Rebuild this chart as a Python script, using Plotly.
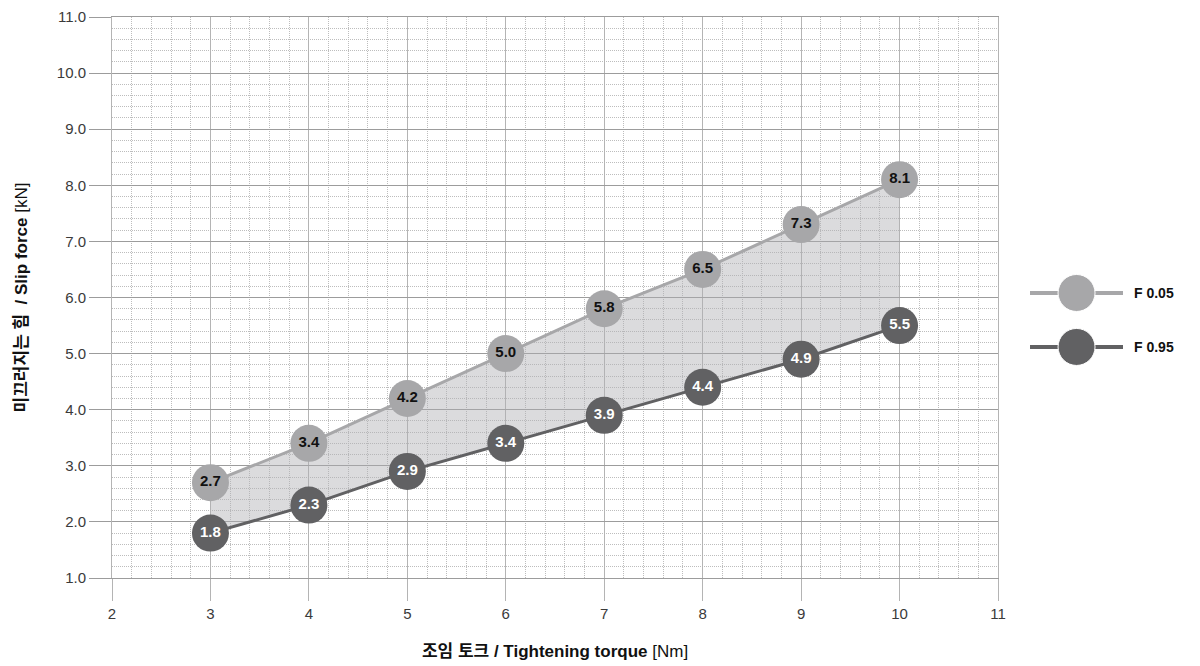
import plotly.graph_objects as go

torque = [3, 4, 5, 6, 7, 8, 9, 10]
f005 = [2.7, 3.4, 4.2, 5.0, 5.8, 6.5, 7.3, 8.1]
f095 = [1.8, 2.3, 2.9, 3.4, 3.9, 4.4, 4.9, 5.5]
series_names = ["F 0.05", "F 0.95"]

light = "#a7a7a9"
dark = "#616163"
font_fam = "Liberation Sans, Arial, Noto Sans CJK KR"
kr_fam = "Liberation Sans, Noto Sans CJK KR"

fig = go.Figure()

# lower series first, upper fills down to it
fig.add_trace(go.Scatter(
    x=torque, y=f095, mode="lines",
    line=dict(color=dark, width=3), hoverinfo="skip", showlegend=False,
))
fig.add_trace(go.Scatter(
    x=torque, y=f005, mode="lines", fill="tonexty",
    fillcolor="rgba(175,175,180,0.45)",
    line=dict(color=light, width=3), hoverinfo="skip", showlegend=False,
))
fig.add_trace(go.Scatter(
    x=torque, y=f005, mode="markers+text",
    marker=dict(size=37, color=light),
    text=[f"{v:.1f}" for v in f005], textposition="middle center",
    textfont=dict(family=font_fam, size=15, color="#111111", weight="bold"),
    name=series_names[0], showlegend=False,
))
fig.add_trace(go.Scatter(
    x=torque, y=f095, mode="markers+text",
    marker=dict(size=37, color=dark),
    text=[f"{v:.1f}" for v in f095], textposition="middle center",
    textfont=dict(family=font_fam, size=15, color="white", weight="bold"),
    name=series_names[1], showlegend=False,
))

# custom legend in a small side axis
for i, (name, col) in enumerate(zip(series_names, [light, dark])):
    yv = 2 - i
    fig.add_trace(go.Scatter(
        x=[0, 1, 2], y=[yv, yv, yv], mode="lines+markers",
        line=dict(color=col, width=4),
        marker=dict(size=[0, 37, 0], color=col, opacity=1),
        xaxis="x2", yaxis="y2", showlegend=False, hoverinfo="skip",
    ))
    fig.add_annotation(
        x=2, y=yv, xref="x2", yref="y2", text=f"<b>{name}</b>",
        showarrow=False, xanchor="left", xshift=9,
        font=dict(family=font_fam, size=14, color="#111111"),
    )

fig.update_layout(
    width=1200, height=666,
    margin=dict(l=104, r=0, t=9, b=96, autoexpand=False),
    plot_bgcolor="white", paper_bgcolor="white",
    font=dict(family=font_fam, color="#444444"),
    xaxis=dict(
        domain=[0, 0.8084],
        range=[2, 11], dtick=1, tick0=2,
        showgrid=True, gridcolor="#b4b4b4", gridwidth=1,
        ticks="outside", ticklen=22, tickcolor="#b4b4b4",
        tickfont=dict(size=15, color="#3a3a3a"),
        ticklabeloverflow="allow",
        minor=dict(dtick=0.2, showgrid=True, griddash="1px,1px", gridcolor="#bdbdbd"),
        zeroline=False, showline=True, mirror=True, linecolor="#9c9c9c",
        title=dict(
            text="<b>조임 토크 / Tightening torque</b> [Nm]",
            font=dict(family=kr_fam, size=17, color="#111111"), standoff=24,
        ),
    ),
    yaxis=dict(
        range=[1, 11], dtick=1, tick0=1, tickformat=".1f",
        showgrid=True, gridcolor="#9c9c9c", gridwidth=1,
        ticks="outside", ticklen=22, tickcolor="#9c9c9c",
        tickfont=dict(size=15, color="#3a3a3a"),
        ticklabeloverflow="allow",
        minor=dict(dtick=0.2, showgrid=True, griddash="1px,1px", gridcolor="#bdbdbd"),
        zeroline=False, showline=True, mirror=True, linecolor="#b4b4b4",
        title=dict(
            text="<b>미끄러지는 힘  / Slip force</b> [kN]",
            font=dict(family=kr_fam, size=17, color="#111111"), standoff=24,
        ),
    ),
    xaxis2=dict(domain=[0.8376, 0.9225], range=[0, 2], visible=False, fixedrange=True),
    yaxis2=dict(domain=[0.3156, 0.6043], range=[0, 3], visible=False, fixedrange=True,
                anchor="x2"),
)

fig.write_html("out.html")
